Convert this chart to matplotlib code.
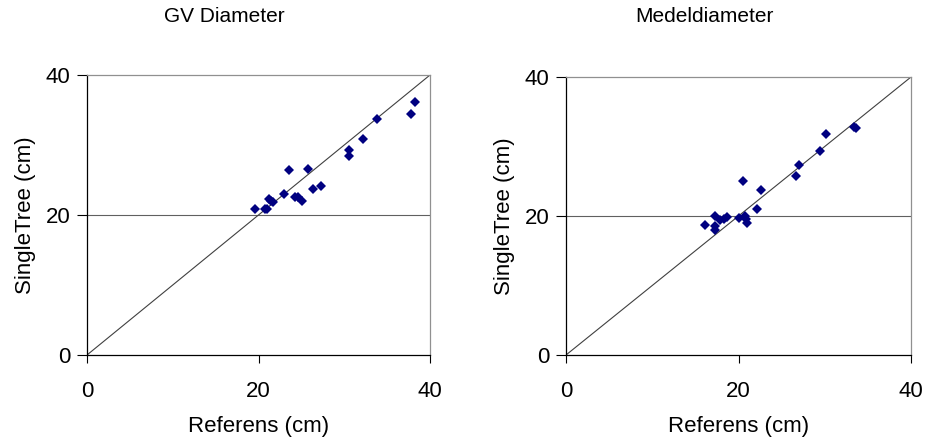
import matplotlib.pyplot as plt
import numpy as np

plt.rcParams['font.family'] = ['Liberation Sans', 'DejaVu Sans']

# GV Diameter: referens vs singletree
gv_ref = [19.6, 20.8, 21.0, 21.2, 21.4, 21.7, 23.0, 23.6, 24.2, 24.6,
          25.1, 25.8, 26.4, 27.3, 30.5, 30.6, 32.2, 33.8, 37.8, 38.3]
gv_st = [20.9, 20.8, 20.9, 22.3, 22.0, 21.8, 23.0, 26.5, 22.6, 22.6,
         22.0, 26.6, 23.7, 24.2, 29.3, 28.5, 30.9, 33.7, 34.5, 36.1]

# Medeldiameter
md_ref = [16.1, 17.3, 17.3, 17.3, 17.9, 18.3, 18.7, 20.1, 20.5, 20.8,
          20.9, 21.0, 22.1, 22.6, 26.7, 27.0, 29.5, 30.1, 33.4, 33.6]
md_st = [18.7, 20.0, 18.5, 18.0, 19.4, 19.5, 19.9, 19.7, 25.0, 20.0,
         19.6, 19.0, 21.0, 23.8, 25.7, 27.3, 29.3, 31.8, 32.8, 32.6]

ticks = [0, 20, 40]

W, H = 925, 438
fig = plt.figure(figsize=(W / 100, H / 100), dpi=100)


def make_panel(box, xs, ys, title, title_x):
    l, t, r, b = box
    ax = fig.add_axes([l / W, 1 - b / H, (r - l) / W, (b - t) / H])
    ax.set_xlim(0, 40)
    ax.set_ylim(0, 40)
    ax.plot([0, 40], [0, 40], color='#404040', lw=0.8, zorder=2)
    ax.axhline(20, color='#606060', lw=0.8, zorder=1)
    ax.plot(xs, ys, 'D', color='#000080', ms=5.2, mew=0, zorder=3, clip_on=False)
    ax.set_xticks(ticks)
    ax.set_yticks(ticks)
    ax.tick_params(axis='x', direction='out', length=6, width=0.8, pad=13, labelsize=16)
    ax.tick_params(axis='y', direction='out', length=7, width=0.8, pad=5, labelsize=16)
    for s in ['left', 'bottom']:
        ax.spines[s].set_color('black')
        ax.spines[s].set_linewidth(0.9)
    for s in ['top', 'right']:
        ax.spines[s].set_color('#909090')
        ax.spines[s].set_linewidth(0.9)
    ax.set_xlabel('Referens (cm)', fontsize=16, labelpad=10)
    ax.set_ylabel('SingleTree (cm)', fontsize=16, labelpad=7)
    fig.text(title_x / W, 1 - 17 / H, title, fontsize=15, ha='center', va='center')
    return ax


make_panel((87, 75, 430, 355), gv_ref, gv_st, 'GV Diameter', 224)
make_panel((566, 77, 911, 355), md_ref, md_st, 'Medeldiameter', 704)

fig.savefig('out.png', dpi=100)
